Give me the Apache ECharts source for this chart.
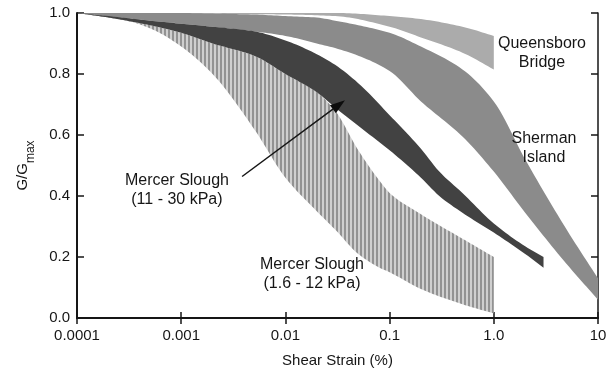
<!DOCTYPE html>
<html>
<head>
<meta charset="utf-8">
<script src="https://cdn.jsdelivr.net/npm/echarts@6/dist/echarts.min.js"></script>
<style>
  html, body { margin: 0; padding: 0; background: #fff; }
  #chart { width: 615px; height: 373px; }
</style>
</head>
<body>
<div id="chart"></div>
<script>
// Modulus reduction bands: G/Gmax against shear strain (%)
const xTickLabels = ['0.0001', '0.001', '0.01', '0.1', '1.0', '10'];

// Mercer Slough (1.6 - 12 kPa)
const strainMS1 = [0.0001, 0.0002, 0.0005, 0.001, 0.002, 0.005, 0.01, 0.02, 0.03, 0.05, 0.08, 0.1, 0.2, 0.5, 1.0];
const upperMS1  = [1.0, 0.985, 0.96, 0.935, 0.90, 0.86, 0.80, 0.74, 0.68, 0.55, 0.45, 0.41, 0.34, 0.26, 0.20];
const lowerMS1  = [1.0, 0.99, 0.95, 0.89, 0.80, 0.62, 0.46, 0.35, 0.29, 0.21, 0.165, 0.15, 0.095, 0.045, 0.015];

// Mercer Slough (11 - 30 kPa)
const strainMS2 = [0.0001, 0.0002, 0.0005, 0.001, 0.002, 0.005, 0.01, 0.02, 0.03, 0.05, 0.1, 0.2, 0.3, 0.5, 1.0, 2.0, 3.0];
const upperMS2  = [1.0, 0.99, 0.975, 0.965, 0.955, 0.94, 0.91, 0.865, 0.83, 0.77, 0.665, 0.555, 0.48, 0.41, 0.31, 0.235, 0.20];
const lowerMS2  = [1.0, 0.985, 0.96, 0.935, 0.90, 0.86, 0.80, 0.74, 0.69, 0.63, 0.55, 0.46, 0.40, 0.345, 0.28, 0.21, 0.165];

// Sherman Island
const strainSI = [0.0001, 0.0005, 0.001, 0.002, 0.005, 0.01, 0.02, 0.03, 0.05, 0.1, 0.2, 0.5, 1.0, 2.0, 5.0, 10];
const upperSI  = [1.0, 1.0, 1.0, 0.998, 0.995, 0.99, 0.985, 0.975, 0.96, 0.935, 0.89, 0.815, 0.71, 0.52, 0.29, 0.13];
const lowerSI  = [1.0, 0.975, 0.965, 0.955, 0.94, 0.925, 0.90, 0.885, 0.86, 0.81, 0.71, 0.595, 0.48, 0.345, 0.177, 0.06];

// Queensboro Bridge
const strainQB = [0.0001, 0.01, 0.03, 0.1, 0.2, 0.5, 1.0];
const upperQB  = [1.0, 1.0, 1.0, 0.99, 0.98, 0.955, 0.925];
const lowerQB  = [1.0, 0.995, 0.99, 0.955, 0.92, 0.87, 0.815];

// Band labels: [strain, G/Gmax, text]
const bandLabels = [
  [2.9, 0.867, 'Queensboro\nBridge'],
  [3.03, 0.557, 'Sherman\nIsland'],
  [0.00091, 0.419, 'Mercer Slough\n(11 - 30 kPa)'],
  [0.018, 0.143, 'Mercer Slough\n(1.6 - 12 kPa)']
];
// Pointer from the 11 - 30 kPa label to its band: [strain, G/Gmax]
const pointerFrom = [0.00384, 0.464];
const pointerTo = [0.0373, 0.714];

const FONT = "'Liberation Sans', Arial, Helvetica, sans-serif";
const INK = '#161616';

// vertical hatching used for the 1.6 - 12 kPa band
function hatchPattern() {
  const c = document.createElement('canvas');
  c.width = 4; c.height = 4;
  const g = c.getContext('2d');
  g.fillStyle = '#cfcfcf';
  g.fillRect(0, 0, 4, 4);
  g.fillStyle = '#929292';
  g.fillRect(0, 0, 2, 4);
  return { image: c, repeat: 'repeat' };
}

// monotone cubic through pixel points (x increasing), sampled for a smooth edge
function smoothEdge(pts) {
  const n = pts.length;
  if (n < 3) return pts.slice();
  const dx = [], m = [], t = new Array(n);
  for (let i = 0; i < n - 1; i++) {
    dx.push(pts[i + 1][0] - pts[i][0]);
    m.push((pts[i + 1][1] - pts[i][1]) / (pts[i + 1][0] - pts[i][0]));
  }
  t[0] = m[0]; t[n - 1] = m[n - 2];
  for (let i = 1; i < n - 1; i++) {
    if (m[i - 1] * m[i] <= 0) t[i] = 0;
    else {
      const w1 = 2 * dx[i] + dx[i - 1], w2 = dx[i] + 2 * dx[i - 1];
      t[i] = (w1 + w2) / (w1 / m[i - 1] + w2 / m[i]);
    }
  }
  const out = [];
  for (let i = 0; i < n - 1; i++) {
    const h = dx[i], steps = Math.max(2, Math.ceil(h / 3));
    for (let k = 0; k < steps; k++) {
      const s = k / steps, s2 = s * s, s3 = s2 * s;
      const y = (2 * s3 - 3 * s2 + 1) * pts[i][1] + (s3 - 2 * s2 + s) * h * t[i]
              + (-2 * s3 + 3 * s2) * pts[i + 1][1] + (s3 - s2) * h * t[i + 1];
      out.push([pts[i][0] + s * h, y]);
    }
  }
  out.push(pts[n - 1]);
  return out;
}

function bandSeries(name, strain, upper, lower, fill, z) {
  return {
    type: 'custom',
    name: name,
    z: z,
    clip: true,
    data: strain.map((s, i) => [s, lower[i], upper[i]]),
    encode: { x: 0, y: [1, 2] },
    renderItem: function (params, api) {
      if (params.dataIndexInside !== 0) return null;
      const n = params.dataInsideLength;
      const up = [], lo = [];
      for (let i = 0; i < n; i++) {
        up.push(api.coord([api.value(0, i), api.value(2, i)]));
        lo.push(api.coord([api.value(0, i), api.value(1, i)]));
      }
      const pts = smoothEdge(up).concat(smoothEdge(lo).reverse());
      return { type: 'polygon', shape: { points: pts }, style: { fill: fill, stroke: null } };
    }
  };
}

const chart = echarts.init(document.getElementById('chart'), null, { renderer: 'canvas' });

const tickStyle = { inside: true, length: 6, lineStyle: { color: INK, width: 1.5 } };

chart.setOption({
  backgroundColor: '#ffffff',
  animation: false,
  grid: { left: 77, right: 17, top: 13, bottom: 52, containLabel: false },
  xAxis: [
    {
      type: 'log', logBase: 10, min: 0.0001, max: 10, position: 'bottom',
      axisLine: { lineStyle: { color: INK, width: 2 } },
      axisTick: tickStyle,
      minorTick: { show: false },
      splitLine: { show: false },
      axisLabel: {
        margin: 10, fontSize: 15, color: INK, fontFamily: FONT,
        formatter: v => xTickLabels[Math.round(Math.log10(v)) + 4]
      },
      name: 'Shear Strain (%)', nameLocation: 'middle', nameGap: 35,
      nameTextStyle: { fontSize: 15, color: INK, fontFamily: FONT }
    },
    {
      type: 'log', logBase: 10, min: 0.0001, max: 10, position: 'top',
      axisLine: { lineStyle: { color: INK, width: 1.5 } },
      axisTick: tickStyle,
      axisLabel: { show: false },
      splitLine: { show: false }
    }
  ],
  yAxis: [
    {
      type: 'value', min: 0, max: 1, interval: 0.2, position: 'left',
      axisLine: { show: true, lineStyle: { color: INK, width: 2 } },
      axisTick: { show: true, inside: true, length: 7, lineStyle: { color: INK, width: 1.5 } },
      splitLine: { show: false },
      axisLabel: { margin: 7, fontSize: 15, color: INK, fontFamily: FONT, formatter: v => v.toFixed(1) },
      name: '{g|G/G}{s|max}', nameLocation: 'middle', nameRotate: 90, nameGap: 40,
      nameTextStyle: {
        color: INK, fontFamily: FONT,
        rich: {
          g: { fontSize: 15, fontFamily: FONT, color: INK, lineHeight: 22, verticalAlign: 'top' },
          s: { fontSize: 12, fontFamily: FONT, color: INK, lineHeight: 22, verticalAlign: 'bottom' }
        }
      }
    },
    {
      type: 'value', min: 0, max: 1, interval: 0.2, position: 'right',
      axisLine: { show: true, lineStyle: { color: INK, width: 1.5 } },
      axisTick: { show: true, inside: true, length: 7, lineStyle: { color: INK, width: 1.5 } },
      splitLine: { show: false },
      axisLabel: { show: false }
    }
  ],
  series: [
    bandSeries('Mercer Slough (1.6 - 12 kPa)', strainMS1, upperMS1, lowerMS1, hatchPattern(), 2),
    bandSeries('Queensboro Bridge', strainQB, upperQB, lowerQB, '#ababab', 3),
    bandSeries('Sherman Island', strainSI, upperSI, lowerSI, '#8b8b8b', 4),
    bandSeries('Mercer Slough (11 - 30 kPa)', strainMS2, upperMS2, lowerMS2, '#424242', 5),
    {
      type: 'custom', name: 'pointer', z: 6, clip: false,
      data: [[pointerFrom[0], pointerFrom[1], pointerTo[0], pointerTo[1]]],
      renderItem: function (params, api) {
        const a = api.coord([api.value(0), api.value(1)]);
        const b = api.coord([api.value(2), api.value(3)]);
        const ang = Math.atan2(b[1] - a[1], b[0] - a[0]);
        const L = 15, W = 5;
        const bx = b[0] - L * Math.cos(ang), by = b[1] - L * Math.sin(ang);
        const px = -Math.sin(ang) * W, py = Math.cos(ang) * W;
        return {
          type: 'group',
          children: [
            { type: 'line', shape: { x1: a[0], y1: a[1], x2: bx, y2: by }, style: { stroke: INK, lineWidth: 1.5 } },
            { type: 'polygon', shape: { points: [b, [bx + px, by + py], [bx - px, by - py]] }, style: { fill: '#0d0d0d' } }
          ]
        };
      }
    },
    {
      type: 'custom', name: 'labels', z: 7, clip: false,
      data: bandLabels,
      renderItem: function (params, api) {
        const p = api.coord([api.value(0), api.value(1)]);
        return {
          type: 'text', x: p[0], y: p[1],
          style: {
            text: bandLabels[params.dataIndex][2],
            fill: INK, fontSize: 16, fontFamily: FONT, lineHeight: 19,
            align: 'center', verticalAlign: 'middle'
          }
        };
      }
    }
  ]
});
</script>
</body>
</html>
